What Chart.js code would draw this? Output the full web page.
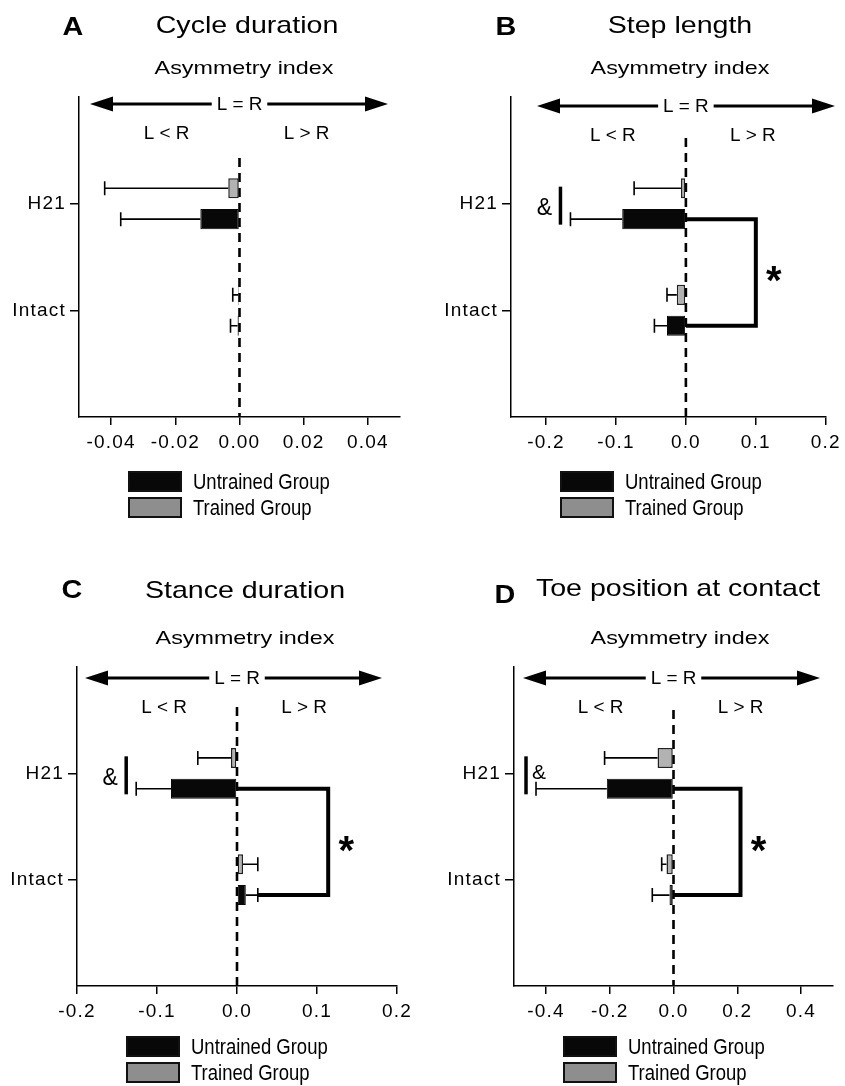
<!DOCTYPE html>
<html>
<head>
<meta charset="utf-8">
<script src="https://cdn.jsdelivr.net/npm/chart.js@4.4.1/dist/chart.umd.min.js"></script>
<style>
  body { margin: 0; background: #fff; }
  .panel { position: absolute; }
</style>
</head>
<body>
<div class="panel" style="left:0;top:0"><canvas id="chartA" width="420" height="545"></canvas></div>
<div class="panel" style="left:420px;top:0"><canvas id="chartB" width="425" height="545"></canvas></div>
<div class="panel" style="left:0;top:545px"><canvas id="chartC" width="420" height="541"></canvas></div>
<div class="panel" style="left:420px;top:545px"><canvas id="chartD" width="425" height="541"></canvas></div>
<script>
// rows of each panel (empty slots keep space above and below)
const groups = ['', 'H21', 'Intact', ''];
const seriesNames = ['Untrained Group', 'Trained Group'];

// asymmetry index, mean and SEM for [H21, Intact]
const cycleTrained = [-0.0035, -0.0004];
const cycleTrainedErr = [0.0385, 0.0017];
const cycleUntrained = [-0.0122, -0.0006];
const cycleUntrainedErr = [0.0248, 0.0022];

const stepTrained = [-0.007, -0.013];
const stepTrainedErr = [0.067, 0.014];
const stepUntrained = [-0.091, -0.027];
const stepUntrainedErr = [0.074, 0.018];

const stanceTrained = [-0.0075, 0.0075];
const stanceTrainedErr = [0.0415, 0.0185];
const stanceUntrained = [-0.0825, 0.011];
const stanceUntrainedErr = [0.0435, 0.015];

const toeTrained = [-0.05, -0.022];
const toeTrainedErr = [0.166, 0.015];
const toeUntrained = [-0.209, -0.0125];
const toeUntrainedErr = [0.222, 0.054];

const cycleTicks = [-0.04, -0.02, 0, 0.02, 0.04];
const stepTicks = [-0.2, -0.1, 0, 0.1, 0.2];
const stanceTicks = [-0.2, -0.1, 0, 0.1, 0.2];
const toeTicks = [-0.4, -0.2, 0, 0.2, 0.4];

const FONT = '"Liberation Sans", Arial, sans-serif';
const INK = '#000';
const BAR_GREY = '#b2b2b2';
const KEY_GREY = '#8e8e8e';

const panels = [
  { id: 'chartA', letter: 'A', title: 'Cycle duration', min: -0.05, max: 0.05, ticks: cycleTicks, digits: 2,
    trained: cycleTrained, trainedErr: cycleTrainedErr, untrained: cycleUntrained, untrainedErr: cycleUntrainedErr,
    sig: null, amp: null,
    area: { left: 79, top: 97, right: 400, bottom: 417 },
    letterX: 73, letterY: 26, titleX: 247, titleY: 24, subX: 244, subY: 67,
    arrowY: 104, arrowX: [90, 388], sideY: 133, dashTop: 158, keyTop: 472 },
  { id: 'chartB', letter: 'B', title: 'Step length', min: -0.25, max: 0.2, ticks: stepTicks, digits: 1,
    trained: stepTrained, trainedErr: stepTrainedErr, untrained: stepUntrained, untrainedErr: stepUntrainedErr,
    sig: 0.1, amp: 'left',
    area: { left: 91, top: 97, right: 409, bottom: 417 },
    letterX: 86, letterY: 26, titleX: 260, titleY: 24, subX: 260, subY: 67,
    arrowY: 106, arrowX: [117, 415], sideY: 135, dashTop: 138, keyTop: 472 },
  { id: 'chartC', letter: 'C', title: 'Stance duration', min: -0.2, max: 0.2, ticks: stanceTicks, digits: 1,
    trained: stanceTrained, trainedErr: stanceTrainedErr, untrained: stanceUntrained, untrainedErr: stanceUntrainedErr,
    sig: 0.114, amp: 'left',
    area: { left: 77, top: 122, right: 397, bottom: 441 },
    letterX: 72, letterY: 44, titleX: 245, titleY: 44, subX: 245, subY: 92,
    arrowY: 133, arrowX: [85, 382], sideY: 162, dashTop: 162, keyTop: 492 },
  { id: 'chartD', letter: 'D', title: 'Toe position at contact', min: -0.5, max: 0.5, ticks: toeTicks, digits: 1,
    trained: toeTrained, trainedErr: toeTrainedErr, untrained: toeUntrained, untrainedErr: toeUntrainedErr,
    sig: 0.21, amp: 'right',
    area: { left: 94, top: 122, right: 413, bottom: 441 },
    letterX: 85, letterY: 49, titleX: 258, titleY: 42, subX: 260, subY: 92,
    arrowY: 133, arrowX: [103, 400], sideY: 162, dashTop: 165, keyTop: 492 }
];

// text placed by the vertical middle of its capitals, optionally stretched sideways
function label(ctx, text, x, capMid, size, opts) {
  const o = Object.assign({ bold: false, sx: 1, align: 'center' }, opts);
  ctx.save();
  ctx.letterSpacing = '0px';
  ctx.font = (o.bold ? 'bold ' : '') + size + 'px ' + FONT;
  ctx.fillStyle = INK;
  ctx.textAlign = o.align;
  ctx.textBaseline = 'alphabetic';
  ctx.translate(x, capMid + size * 0.358);
  ctx.scale(o.sx, 1);
  ctx.fillText(text, 0, 0);
  ctx.restore();
}

function arrowHead(ctx, tipX, y, dir) {
  ctx.beginPath();
  ctx.moveTo(tipX, y);
  ctx.lineTo(tipX + dir * 23, y - 7.5);
  ctx.lineTo(tipX + dir * 23, y + 7.5);
  ctx.closePath();
  ctx.fill();
}

function rows(values) {
  return [null, values[0], values[1], null];
}

function makePlugin(p) {
  return {
    id: 'gaitPanel',
    beforeDraw(chart) {
      chart.ctx.letterSpacing = '1.2px';
    },
    beforeDatasetsDraw(chart) {
      const ctx = chart.ctx;
      const x0 = chart.scales.x.getPixelForValue(0);
      ctx.save();
      ctx.strokeStyle = INK;
      ctx.lineWidth = 2.6;
      ctx.setLineDash([9, 6]);
      ctx.beginPath();
      ctx.moveTo(x0, p.dashTop);
      ctx.lineTo(x0, chart.chartArea.bottom);
      ctx.stroke();
      ctx.restore();
    },
    afterDatasetsDraw(chart) {
      const ctx = chart.ctx;
      const xs = chart.scales.x;
      const ys = chart.scales.y;
      const means = [p.trained, p.untrained];
      const errs = [p.trainedErr, p.untrainedErr];
      ctx.save();
      ctx.strokeStyle = INK;
      ctx.fillStyle = INK;

      // error bars, pointing away from zero
      ctx.lineWidth = 1.6;
      means.forEach((m, d) => {
        const meta = chart.getDatasetMeta(d);
        m.forEach((v, i) => {
          const bar = meta.data[i + 1];
          const sign = v < 0 ? -1 : 1;
          const from = xs.getPixelForValue(v);
          const to = xs.getPixelForValue(v + sign * errs[d][i]);
          ctx.beginPath();
          ctx.moveTo(from, bar.y);
          ctx.lineTo(to, bar.y);
          ctx.moveTo(to, bar.y - 7);
          ctx.lineTo(to, bar.y + 7);
          ctx.stroke();
        });
      });

      // H21 vs Intact bracket for the untrained group
      if (p.sig !== null) {
        const meta = chart.getDatasetMeta(1);
        const yTop = meta.data[1].y;
        const yBot = meta.data[2].y;
        const start = i => {
          const v = p.untrained[i];
          return xs.getPixelForValue(v > 0 ? v + p.untrainedErr[i] : 0);
        };
        const bx = xs.getPixelForValue(p.sig);
        ctx.lineWidth = 4;
        ctx.lineJoin = 'miter';
        ctx.beginPath();
        ctx.moveTo(start(0), yTop);
        ctx.lineTo(bx, yTop);
        ctx.lineTo(bx, yBot);
        ctx.lineTo(start(1), yBot);
        ctx.stroke();
        ctx.font = 'bold 40px ' + FONT;
        ctx.letterSpacing = '0px';
        ctx.textAlign = 'center';
        ctx.textBaseline = 'alphabetic';
        ctx.fillText('*', bx + 18, (yTop + yBot) / 2 + 22);
      }

      // trained vs untrained mark on H21
      if (p.amp) {
        const capX = xs.getPixelForValue(p.untrained[0] - p.untrainedErr[0]);
        const mx = capX - 10;
        const my = ys.getPixelForValue(1) + 2;
        ctx.lineWidth = 3.5;
        ctx.beginPath();
        ctx.moveTo(mx, my - 19);
        ctx.lineTo(mx, my + 19);
        ctx.stroke();
        if (p.amp === 'left') {
          label(ctx, '&', mx - 16, my + 1, 23);
        } else {
          label(ctx, '&', mx + 13, my - 4, 21);
        }
      }
      ctx.restore();
    },
    afterDraw(chart) {
      const ctx = chart.ctx;
      const x0 = chart.scales.x.getPixelForValue(0);

      label(ctx, p.letter, p.letterX, p.letterY, 25, { bold: true, sx: 1.15 });
      label(ctx, p.title, p.titleX, p.titleY, 24, { sx: 1.19 });
      label(ctx, 'Asymmetry index', p.subX, p.subY, 18.5, { sx: 1.26 });

      // L = R arrow across the top of the plot
      ctx.save();
      ctx.letterSpacing = '0px';
      ctx.font = '18px ' + FONT;
      const gap = ctx.measureText('L = R').width / 2 + 6;
      ctx.strokeStyle = INK;
      ctx.fillStyle = INK;
      ctx.lineWidth = 3;
      ctx.beginPath();
      ctx.moveTo(p.arrowX[0] + 20, p.arrowY);
      ctx.lineTo(x0 - gap, p.arrowY);
      ctx.moveTo(x0 + gap, p.arrowY);
      ctx.lineTo(p.arrowX[1] - 20, p.arrowY);
      ctx.stroke();
      arrowHead(ctx, p.arrowX[0], p.arrowY, 1);
      arrowHead(ctx, p.arrowX[1], p.arrowY, -1);
      ctx.restore();
      label(ctx, 'L = R', x0, p.arrowY, 18, { sx: 1.05 });
      label(ctx, 'L < R', x0 - 73, p.sideY, 18, { sx: 1.05 });
      label(ctx, 'L > R', x0 + 67, p.sideY, 18, { sx: 1.05 });

      // key, untrained first
      const kx = chart.chartArea.left + 50;
      const fills = ['#080808', KEY_GREY];
      seriesNames.forEach((name, i) => {
        const ky = p.keyTop + i * 26;
        ctx.save();
        ctx.fillStyle = fills[i];
        ctx.strokeStyle = '#111';
        ctx.lineWidth = 2;
        ctx.fillRect(kx, ky, 52, 19);
        ctx.strokeRect(kx, ky, 52, 19);
        ctx.restore();
        label(ctx, name, kx + 64, ky + 9.5, 21.5, { align: 'left', sx: 0.86 });
      });
    }
  };
}

panels.forEach(p => {
  const canvas = document.getElementById(p.id);
  const W = canvas.width;
  const H = canvas.height;
  new Chart(canvas.getContext('2d'), {
    type: 'bar',
    data: {
      labels: groups,
      datasets: [
        {
          label: seriesNames[1],
          data: rows(p.trained),
          backgroundColor: BAR_GREY,
          borderColor: '#222',
          borderWidth: 1.5,
          borderSkipped: false
        },
        {
          label: seriesNames[0],
          data: rows(p.untrained),
          backgroundColor: '#080808',
          borderColor: '#080808',
          borderWidth: 1,
          borderSkipped: false
        }
      ]
    },
    options: {
      indexAxis: 'y',
      responsive: false,
      animation: false,
      devicePixelRatio: 1,
      categoryPercentage: 0.58,
      barPercentage: 0.65,
      layout: {
        padding: {
          left: 0,
          top: p.area.top,
          right: W - p.area.right,
          bottom: H - p.area.bottom - 40
        }
      },
      plugins: {
        legend: { display: false },
        tooltip: { enabled: false }
      },
      scales: {
        x: {
          type: 'linear',
          min: p.min,
          max: p.max,
          afterFit: s => { s.height = 40; },
          afterBuildTicks: s => { s.ticks = p.ticks.map(v => ({ value: v })); },
          border: { display: true, color: INK, width: 1.5 },
          grid: { drawOnChartArea: false, drawTicks: true, tickLength: 8, color: INK, lineWidth: 1.5 },
          ticks: {
            autoSkip: false,
            maxRotation: 0,
            padding: 6,
            color: INK,
            font: { family: FONT, size: 19 },
            callback: v => Number(v).toFixed(p.digits)
          }
        },
        y: {
          type: 'category',
          offset: false,
          afterFit: s => { s.width = p.area.left; },
          afterBuildTicks: s => { s.ticks = s.ticks.filter(t => groups[t.value] !== ''); },
          border: { display: true, color: INK, width: 1.5 },
          grid: { drawOnChartArea: false, drawTicks: true, tickLength: 9, color: INK, lineWidth: 1.5, offset: false },
          ticks: {
            padding: 4,
            color: INK,
            font: { family: FONT, size: 19 }
          }
        }
      }
    },
    plugins: [makePlugin(p)]
  });
});
</script>
</body>
</html>
